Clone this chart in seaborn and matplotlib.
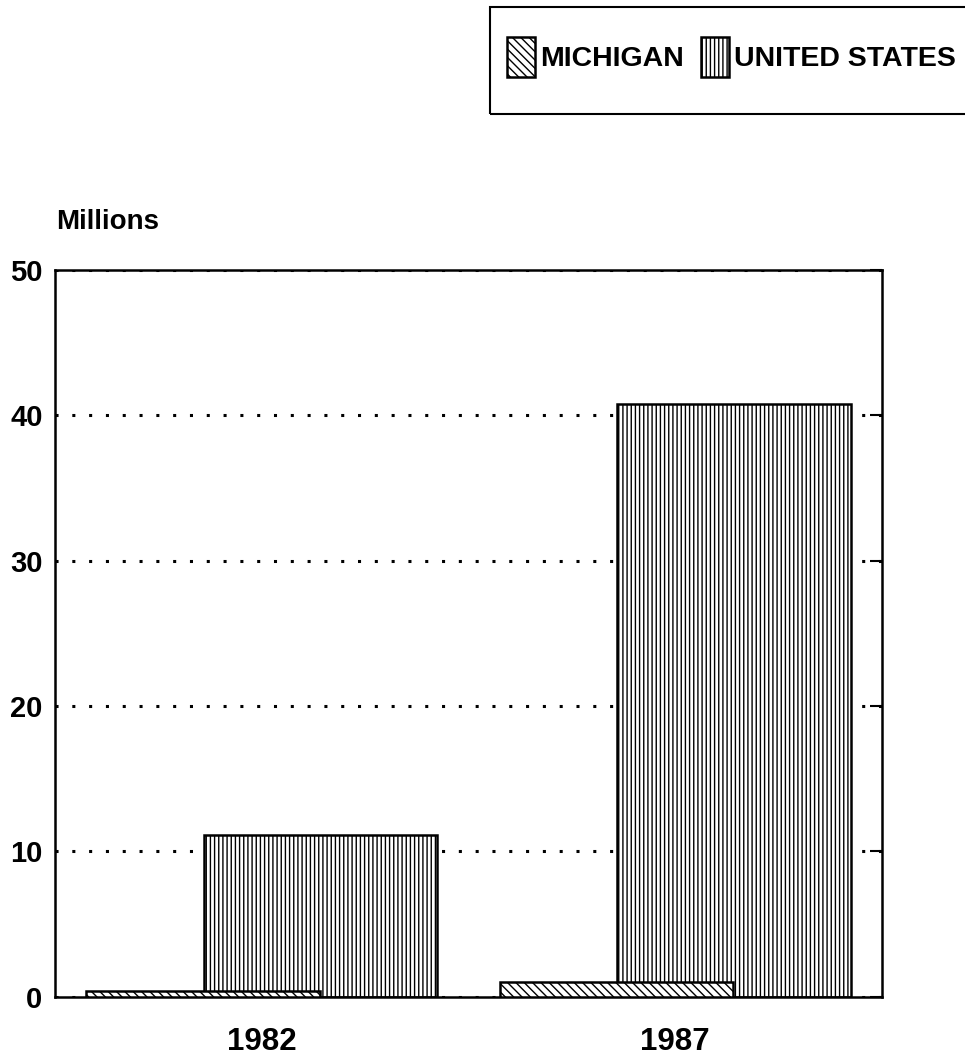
import pandas as pd
import matplotlib.pyplot as plt
import matplotlib.patches as mpatches
import seaborn as sns

# values (millions)
years = ['1982', '1987']
michigan = [0.4, 1.0]
united_states = [11.1, 40.8]

sns.set_style('white')
plt.rcParams['font.family'] = ['Liberation Sans', 'DejaVu Sans']
plt.rcParams['font.weight'] = 'bold'
plt.rcParams['text.color'] = 'black'
plt.rcParams['xtick.color'] = 'black'
plt.rcParams['ytick.color'] = 'black'
plt.rcParams['hatch.linewidth'] = 1.0

# overlapping bars: each bar is wide, shifted a little left/right of the year
bar_w = 0.565
shift = 0.142
pos = list(range(len(years)))
df_mi = pd.DataFrame({'x': [p - shift for p in pos], 'value': michigan})
df_us = pd.DataFrame({'x': [p + shift for p in pos], 'value': united_states})

fig = plt.figure(figsize=(9.65, 10.57), dpi=100)
ax = fig.add_axes([0.057, 0.057, 0.857, 0.6875])

sns.barplot(data=df_us, x='x', y='value', native_scale=True, width=bar_w,
            color='white', saturation=1, edgecolor='black', linewidth=1.8,
            hatch='||||', errorbar=None, label='UNITED STATES', zorder=2, ax=ax)
sns.barplot(data=df_mi, x='x', y='value', native_scale=True, width=bar_w,
            color='white', saturation=1, edgecolor='black', linewidth=1.8,
            hatch='\\\\\\\\', errorbar=None, label='MICHIGAN', zorder=3, ax=ax)
if ax.get_legend() is not None:
    ax.get_legend().remove()

ax.set_xlim(-0.5, 1.5)
ax.set_ylim(0, 50)
ax.set_xticks(pos)
ax.set_xticklabels(years, fontsize=22.5, fontweight='bold')
ax.set_yticks(range(0, 51, 10))
ax.set_yticklabels([str(v) for v in range(0, 51, 10)], fontsize=21, fontweight='bold')
ax.set_xlabel('')
ax.set_ylabel('')
ax.tick_params(axis='x', bottom=False, pad=18)
ax.tick_params(axis='y', left=False, right=True, direction='in', length=9,
               width=1.5, pad=9, labelright=False, labelleft=True)

ax.set_axisbelow(True)
ax.yaxis.grid(True, color='black', linestyle=(0, (1, 4.5)), linewidth=2.2)
for s in ax.spines.values():
    s.set_visible(True)
    s.set_color('black')
    s.set_linewidth(1.8)

fig.text(56 / 965, 1 - 222 / 1057, 'Millions', fontsize=20, fontweight='bold',
         ha='left', va='center')

# legend with its own box, running off the right edge as in the source
h, l = ax.get_legend_handles_labels()
order = [l.index('MICHIGAN'), l.index('UNITED STATES')]
fig.legend([h[i] for i in order], [l[i] for i in order],
           loc='center left', bbox_to_anchor=(507 / 965, 1 - 57 / 1057),
           ncol=2, prop={'weight': 'bold', 'size': 20.5}, frameon=False,
           handlelength=0.97, handleheight=1.75, handletextpad=0.2,
           columnspacing=0.6, borderpad=0, borderaxespad=0)
fig.patches.append(mpatches.Rectangle((490 / 965, 1 - 114 / 1057), 500 / 965, 107 / 1057,
                                      transform=fig.transFigure, fill=False,
                                      edgecolor='black', linewidth=1.5))

fig.savefig('out.png', dpi=100)
